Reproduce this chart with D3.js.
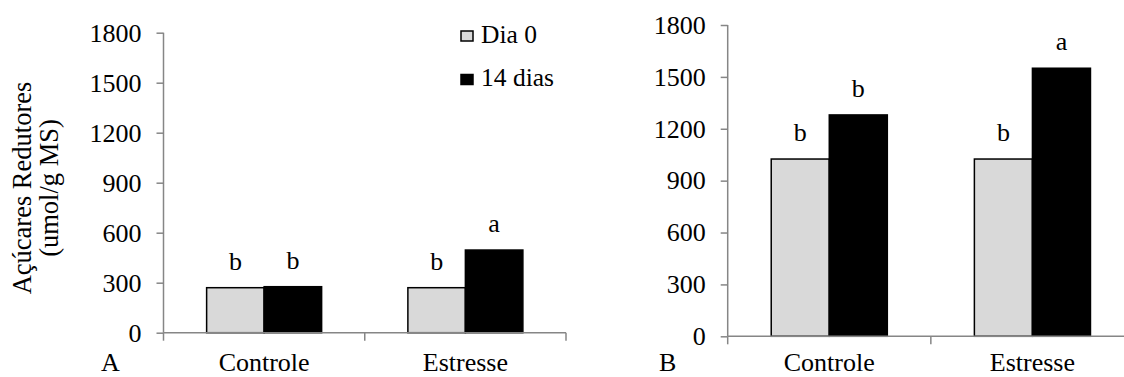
<!DOCTYPE html>
<html>
<head>
<meta charset="utf-8">
<script src="https://cdn.jsdelivr.net/npm/d3@7"></script>
<style>
  body { margin: 0; background: #fff; }
  svg text { font-family: "Liberation Serif", "Times New Roman", serif; fill: #000; }
</style>
</head>
<body>
<div id="chart"></div>
<script>
const categories = ["Controle", "Estresse"];
const seriesNames = ["Dia 0", "14 dias"];
const seriesColors = ["#d9d9d9", "#000000"];
const yTicks = [0, 300, 600, 900, 1200, 1500, 1800];

// panel A
const panelADia0 = [270, 270];
const panelA14 = [276, 496];
const panelALetters = [["b", "b"], ["b", "a"]];

// panel B
const panelBDia0 = [1025, 1025];
const panelB14 = [1280, 1550];
const panelBLetters = [["b", "b"], ["b", "a"]];

const AXIS_COLOR = "#868686";
const FONT = "Liberation Serif, Times New Roman, serif";
const FONT_SIZE = "26px";
const LABEL_BASELINE = 371;

const svg = d3.select("#chart").append("svg")
    .attr("width", 1124)
    .attr("height", 377);

function drawPanel(opts) {
    const { left, top, bottom, right, dia0, d14, letters, tag, tagX } = opts;
    const g = svg.append("g");

    const y = d3.scaleLinear().domain([0, 1800]).range([bottom, top]);
    const x0 = d3.scaleBand().domain(categories).range([left, right]).padding(0);
    const x1 = d3.scaleBand().domain(seriesNames)
        .range([0, x0.bandwidth()])
        .paddingInner(0)
        .paddingOuter(0.75);

    const rows = categories.map((c, i) => ({
        category: c,
        values: [dia0[i], d14[i]],
        letters: letters[i],
    }));

    // y axis
    const yAxis = g.append("g")
        .attr("transform", `translate(${left},0)`)
        .call(d3.axisLeft(y).tickValues(yTicks).tickSize(7).tickPadding(15).tickFormat(d3.format("d")));
    yAxis.attr("font-family", FONT).attr("font-size", FONT_SIZE);
    yAxis.select(".domain").attr("stroke", AXIS_COLOR).attr("stroke-width", 1.5)
        .attr("d", `M0,${top}V${bottom}`);
    yAxis.selectAll(".tick line").attr("stroke", AXIS_COLOR).attr("stroke-width", 1.5);
    yAxis.selectAll(".tick text").attr("fill", "#000");

    // bars
    const groups = g.selectAll(".grp")
        .data(rows)
        .enter().append("g")
        .attr("class", "grp")
        .attr("transform", d => `translate(${x0(d.category)},0)`);

    groups.selectAll("rect")
        .data(d => d.values.map((v, k) => ({ series: seriesNames[k], value: v, k })))
        .enter().append("rect")
        .attr("x", d => x1(d.series))
        .attr("y", d => y(d.value))
        .attr("width", x1.bandwidth())
        .attr("height", d => bottom - y(d.value))
        .attr("fill", d => seriesColors[d.k])
        .attr("stroke", "#000")
        .attr("stroke-width", 1.5);

    groups.selectAll("text.letter")
        .data(d => d.values.map((v, k) => ({ series: seriesNames[k], value: v, letter: d.letters[k] })))
        .enter().append("text")
        .attr("class", "letter")
        .attr("x", d => x1(d.series) + x1.bandwidth() / 2)
        .attr("y", d => y(d.value) - 18)
        .attr("text-anchor", "middle")
        .style("font-size", FONT_SIZE)
        .text(d => d.letter);

    // x axis
    const xAxis = g.append("g")
        .attr("transform", `translate(0,${bottom})`);
    xAxis.append("line")
        .attr("x1", left).attr("x2", right)
        .attr("stroke", AXIS_COLOR).attr("stroke-width", 1.5);
    xAxis.selectAll("line.tk")
        .data([left, ...categories.map(c => x0(c) + x0.bandwidth())])
        .enter().append("line")
        .attr("class", "tk")
        .attr("x1", d => d).attr("x2", d => d)
        .attr("y1", 0).attr("y2", 8)
        .attr("stroke", AXIS_COLOR).attr("stroke-width", 1.5);

    g.selectAll("text.cat")
        .data(categories)
        .enter().append("text")
        .attr("class", "cat")
        .attr("x", d => x0(d) + x0.bandwidth() / 2)
        .attr("y", LABEL_BASELINE)
        .attr("text-anchor", "middle")
        .style("font-size", FONT_SIZE)
        .text(d => d);

    g.append("text")
        .attr("x", tagX)
        .attr("y", LABEL_BASELINE)
        .style("font-size", FONT_SIZE)
        .text(tag);

    return g;
}

drawPanel({
    left: 163.5, right: 566, top: 32.7, bottom: 332.7,
    dia0: panelADia0, d14: panelA14, letters: panelALetters,
    tag: "A", tagX: 101,
});

drawPanel({
    left: 727.7, right: 1134, top: 25, bottom: 336.3,
    dia0: panelBDia0, d14: panelB14, letters: panelBLetters,
    tag: "B", tagX: 659,
});

// y axis title (panel A)
const title = svg.append("text")
    .attr("transform", "translate(31,188) rotate(-90)")
    .attr("text-anchor", "middle")
    .style("font-size", "26.5px");
title.append("tspan").attr("x", 0).attr("dy", 0).text("Açúcares Redutores");
title.append("tspan").attr("x", 0).attr("dy", 27).text("(umol/g MS)");

// legend (panel A)
const legend = svg.append("g").attr("transform", "translate(461,31)");
const legendItems = legend.selectAll("g")
    .data(seriesNames)
    .enter().append("g")
    .attr("transform", (d, i) => `translate(0,${i * 43.5})`);
legendItems.append("rect")
    .attr("width", 12).attr("height", 10)
    .attr("fill", (d, i) => seriesColors[i])
    .attr("stroke", "#000").attr("stroke-width", 1.5);
legendItems.append("text")
    .attr("x", 20).attr("y", 11.5)
    .style("font-size", "25.5px")
    .text(d => d);
</script>
</body>
</html>
